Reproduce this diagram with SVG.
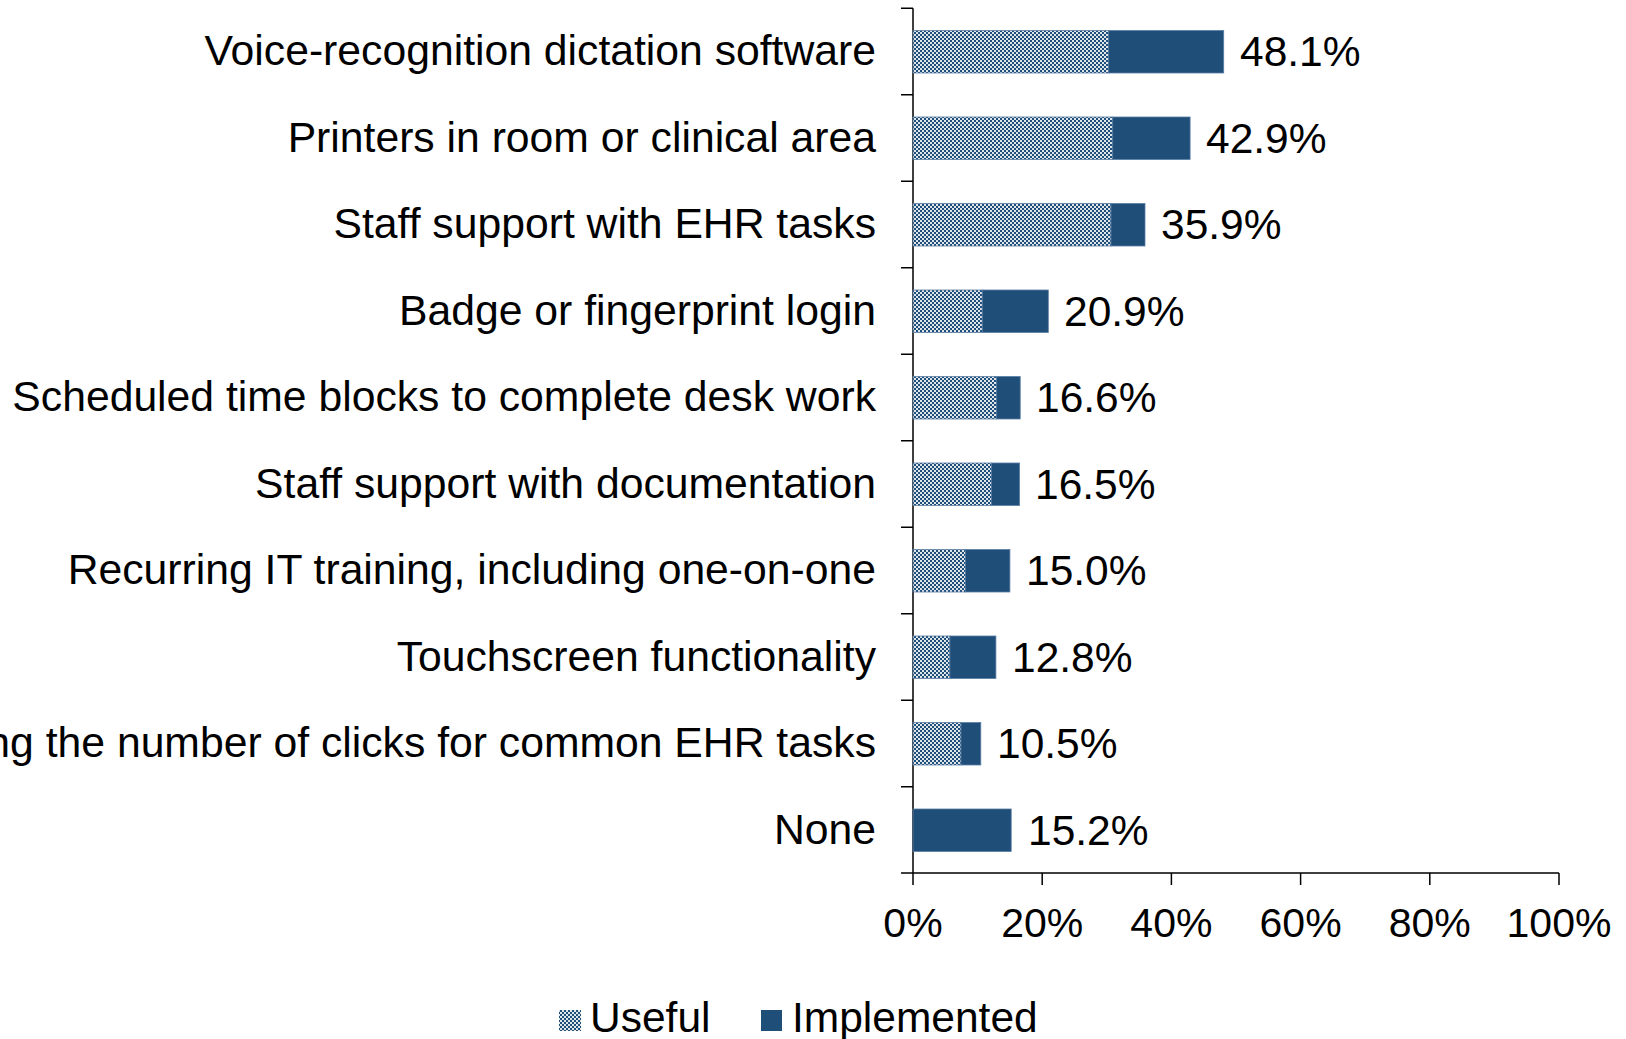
<svg xmlns="http://www.w3.org/2000/svg" width="1626" height="1039" viewBox="0 0 1626 1039">
<defs>
<pattern id="chk" width="4" height="4" patternUnits="userSpaceOnUse">
<rect width="4" height="4" fill="#1F4E79"/>
<rect x="0" y="0" width="2" height="2" fill="#ffffff" fill-opacity="0.85"/>
<rect x="2" y="2" width="2" height="2" fill="#ffffff" fill-opacity="0.85"/>
</pattern>
<style>
text{font-family:"Liberation Sans",Arial,sans-serif;fill:#000}
.lbl{font-size:42.7px;text-anchor:end}
.val{font-size:42.5px}
.tick{font-size:41px;text-anchor:middle}
.leg{font-size:42.5px}
.useful{fill:url(#chk);stroke:#5a7ea4;stroke-width:0.8}
.impl{fill:#1F4E79;stroke:#5a7ea4;stroke-width:0.8}
.ax{stroke:#000;stroke-width:1.5;fill:none}
</style>
</defs>
<rect width="1626" height="1039" fill="#ffffff"/>

<g id="axes">
<path class="ax" d="M913,8.3 V885 M901,873 H1559"/>
<path class="ax" d="M901,8.3 H913 M901,94.8 H913 M901,181.3 H913 M901,267.8 H913 M901,354.3 H913 M901,440.8 H913 M901,527.3 H913 M901,613.8 H913 M901,700.3 H913 M901,786.8 H913"/>
<path class="ax" d="M1042.2,873 V885 M1171.4,873 V885 M1300.6,873 V885 M1429.8,873 V885 M1559,873 V885"/>
<text class="tick" x="913" y="937">0%</text>
<text class="tick" x="1042.2" y="937">20%</text>
<text class="tick" x="1171.4" y="937">40%</text>
<text class="tick" x="1300.6" y="937">60%</text>
<text class="tick" x="1429.8" y="937">80%</text>
<text class="tick" x="1559" y="937">100%</text>
</g>

<g id="bar1">
<text class="lbl" x="876" y="65">Voice-recognition dictation software</text>
<rect class="useful" x="913" y="30.5" width="195.6" height="42.5"/>
<rect class="impl" x="1108.6" y="30.5" width="115.1" height="42.5"/>
<text class="val" x="1240" y="66">48.1%</text>
</g>
<g id="bar2">
<text class="lbl" x="876" y="151.5">Printers in room or clinical area</text>
<rect class="useful" x="913" y="117" width="199.7" height="42.5"/>
<rect class="impl" x="1112.7" y="117" width="77.4" height="42.5"/>
<text class="val" x="1206" y="152.5">42.9%</text>
</g>
<g id="bar3">
<text class="lbl" x="876" y="238">Staff support with EHR tasks</text>
<rect class="useful" x="913" y="203.5" width="198" height="42.5"/>
<rect class="impl" x="1111" y="203.5" width="34" height="42.5"/>
<text class="val" x="1161" y="239">35.9%</text>
</g>
<g id="bar4">
<text class="lbl" x="876" y="324.5">Badge or fingerprint login</text>
<rect class="useful" x="913" y="290" width="69.3" height="42.5"/>
<rect class="impl" x="982.3" y="290" width="66" height="42.5"/>
<text class="val" x="1064" y="325.5">20.9%</text>
</g>
<g id="bar5">
<text class="lbl" x="876" y="411">Scheduled time blocks to complete desk work</text>
<rect class="useful" x="913" y="376.5" width="83.6" height="42.5"/>
<rect class="impl" x="996.6" y="376.5" width="23.6" height="42.5"/>
<text class="val" x="1036" y="412">16.6%</text>
</g>
<g id="bar6">
<text class="lbl" x="876" y="497.5">Staff support with documentation</text>
<rect class="useful" x="913" y="463" width="78.4" height="42.5"/>
<rect class="impl" x="991.4" y="463" width="28.2" height="42.5"/>
<text class="val" x="1035" y="498.5">16.5%</text>
</g>
<g id="bar7">
<text class="lbl" x="876" y="584">Recurring IT training, including one-on-one</text>
<rect class="useful" x="913" y="549.5" width="52.4" height="42.5"/>
<rect class="impl" x="965.4" y="549.5" width="44.5" height="42.5"/>
<text class="val" x="1026" y="585">15.0%</text>
</g>
<g id="bar8">
<text class="lbl" x="876" y="670.5">Touchscreen functionality</text>
<rect class="useful" x="913" y="636" width="36.9" height="42.5"/>
<rect class="impl" x="949.9" y="636" width="46" height="42.5"/>
<text class="val" x="1012" y="671.5">12.8%</text>
</g>
<g id="bar9">
<text class="lbl" x="876" y="757">Reducing the number of clicks for common EHR tasks</text>
<rect class="useful" x="913" y="722.5" width="48" height="42.5"/>
<rect class="impl" x="961" y="722.5" width="19.8" height="42.5"/>
<text class="val" x="997" y="758">10.5%</text>
</g>
<g id="bar10">
<text class="lbl" x="876" y="843.5">None</text>
<rect class="impl" x="913" y="809" width="98.2" height="42.5"/>
<text class="val" x="1028" y="844.5">15.2%</text>
</g>

<g id="legend">
<rect class="useful" x="559" y="1010" width="22" height="21" style="stroke:none"/>
<text class="leg" x="590" y="1032">Useful</text>
<rect class="impl" x="761" y="1010" width="21" height="21" style="stroke:none"/>
<text class="leg" x="792" y="1032">Implemented</text>
</g>
</svg>
